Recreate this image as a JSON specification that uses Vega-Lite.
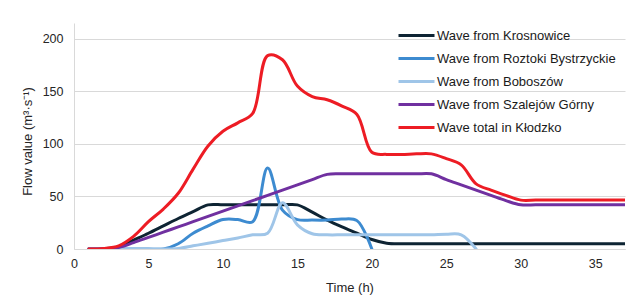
{
  "$schema": "https://vega.github.io/schema/vega-lite/v6.json",
  "width": 551,
  "height": 226,
  "autosize": {"type": "none"},
  "padding": {"left": 74, "top": 23, "right": 12, "bottom": 49},
  "background": "white",
  "config": {
    "font": "Liberation Sans",
    "view": {"stroke": null},
    "axis": {"labelFont": "Liberation Sans", "titleFont": "Liberation Sans", "labelColor": "#262626", "titleColor": "#262626", "titleFontWeight": "normal", "gridColor": "#d9d9d9", "domainColor": "#d9d9d9", "ticks": false}
  },
  "data": {"values": [
    {"s":"Wave from Krosnowice","t":1,"v":0},{"s":"Wave from Krosnowice","t":2,"v":0.3},{"s":"Wave from Krosnowice","t":3,"v":2},{"s":"Wave from Krosnowice","t":4,"v":8.5},{"s":"Wave from Krosnowice","t":5,"v":15},{"s":"Wave from Krosnowice","t":6,"v":22},{"s":"Wave from Krosnowice","t":7,"v":29},{"s":"Wave from Krosnowice","t":8,"v":35.5},{"s":"Wave from Krosnowice","t":9,"v":42},{"s":"Wave from Krosnowice","t":10,"v":42},{"s":"Wave from Krosnowice","t":11,"v":42},{"s":"Wave from Krosnowice","t":12,"v":42},{"s":"Wave from Krosnowice","t":13,"v":42},{"s":"Wave from Krosnowice","t":14,"v":42},{"s":"Wave from Krosnowice","t":15,"v":42},{"s":"Wave from Krosnowice","t":16,"v":35},{"s":"Wave from Krosnowice","t":17,"v":27.5},{"s":"Wave from Krosnowice","t":18,"v":21},{"s":"Wave from Krosnowice","t":19,"v":15},{"s":"Wave from Krosnowice","t":20,"v":9},{"s":"Wave from Krosnowice","t":21,"v":5.5},{"s":"Wave from Krosnowice","t":22,"v":5},{"s":"Wave from Krosnowice","t":23,"v":5},{"s":"Wave from Krosnowice","t":24,"v":5},{"s":"Wave from Krosnowice","t":25,"v":5},{"s":"Wave from Krosnowice","t":26,"v":5},{"s":"Wave from Krosnowice","t":27,"v":5},{"s":"Wave from Krosnowice","t":28,"v":5},{"s":"Wave from Krosnowice","t":29,"v":5},{"s":"Wave from Krosnowice","t":30,"v":5},{"s":"Wave from Krosnowice","t":31,"v":5},{"s":"Wave from Krosnowice","t":32,"v":5},{"s":"Wave from Krosnowice","t":33,"v":5},{"s":"Wave from Krosnowice","t":34,"v":5},{"s":"Wave from Krosnowice","t":35,"v":5},{"s":"Wave from Krosnowice","t":36,"v":5},{"s":"Wave from Krosnowice","t":37,"v":5},
    {"s":"Wave from Roztoki Bystrzyckie","t":1,"v":0},{"s":"Wave from Roztoki Bystrzyckie","t":2,"v":0},{"s":"Wave from Roztoki Bystrzyckie","t":3,"v":0},{"s":"Wave from Roztoki Bystrzyckie","t":4,"v":0},{"s":"Wave from Roztoki Bystrzyckie","t":5,"v":0},{"s":"Wave from Roztoki Bystrzyckie","t":6,"v":0},{"s":"Wave from Roztoki Bystrzyckie","t":7,"v":5},{"s":"Wave from Roztoki Bystrzyckie","t":8,"v":15},{"s":"Wave from Roztoki Bystrzyckie","t":9,"v":22},{"s":"Wave from Roztoki Bystrzyckie","t":10,"v":28},{"s":"Wave from Roztoki Bystrzyckie","t":11,"v":28},{"s":"Wave from Roztoki Bystrzyckie","t":12,"v":26},{"s":"Wave from Roztoki Bystrzyckie","t":13,"v":77},{"s":"Wave from Roztoki Bystrzyckie","t":14,"v":37},{"s":"Wave from Roztoki Bystrzyckie","t":15,"v":28},{"s":"Wave from Roztoki Bystrzyckie","t":16,"v":27.5},{"s":"Wave from Roztoki Bystrzyckie","t":17,"v":27.5},{"s":"Wave from Roztoki Bystrzyckie","t":18,"v":28.5},{"s":"Wave from Roztoki Bystrzyckie","t":19,"v":27},{"s":"Wave from Roztoki Bystrzyckie","t":20,"v":0},
    {"s":"Wave from Boboszów","t":1,"v":0},{"s":"Wave from Boboszów","t":2,"v":0},{"s":"Wave from Boboszów","t":3,"v":0},{"s":"Wave from Boboszów","t":4,"v":0},{"s":"Wave from Boboszów","t":5,"v":0},{"s":"Wave from Boboszów","t":6,"v":0},{"s":"Wave from Boboszów","t":7,"v":0.5},{"s":"Wave from Boboszów","t":8,"v":3},{"s":"Wave from Boboszów","t":9,"v":5.5},{"s":"Wave from Boboszów","t":10,"v":8},{"s":"Wave from Boboszów","t":11,"v":10.5},{"s":"Wave from Boboszów","t":12,"v":13.5},{"s":"Wave from Boboszów","t":13,"v":15},{"s":"Wave from Boboszów","t":14,"v":44},{"s":"Wave from Boboszów","t":15,"v":23},{"s":"Wave from Boboszów","t":16,"v":14.5},{"s":"Wave from Boboszów","t":17,"v":13.5},{"s":"Wave from Boboszów","t":18,"v":13.5},{"s":"Wave from Boboszów","t":19,"v":13.5},{"s":"Wave from Boboszów","t":20,"v":13.5},{"s":"Wave from Boboszów","t":21,"v":13.5},{"s":"Wave from Boboszów","t":22,"v":13.5},{"s":"Wave from Boboszów","t":23,"v":13.5},{"s":"Wave from Boboszów","t":24,"v":13.5},{"s":"Wave from Boboszów","t":25,"v":14},{"s":"Wave from Boboszów","t":26,"v":13.5},{"s":"Wave from Boboszów","t":27,"v":0},
    {"s":"Wave from Szalejów Górny","t":1,"v":0},{"s":"Wave from Szalejów Górny","t":2,"v":0.2},{"s":"Wave from Szalejów Górny","t":3,"v":1.5},{"s":"Wave from Szalejów Górny","t":4,"v":6},{"s":"Wave from Szalejów Górny","t":5,"v":11},{"s":"Wave from Szalejów Górny","t":6,"v":16},{"s":"Wave from Szalejów Górny","t":7,"v":21},{"s":"Wave from Szalejów Górny","t":8,"v":26},{"s":"Wave from Szalejów Górny","t":9,"v":31},{"s":"Wave from Szalejów Górny","t":10,"v":36},{"s":"Wave from Szalejów Górny","t":11,"v":41},{"s":"Wave from Szalejów Górny","t":12,"v":46},{"s":"Wave from Szalejów Górny","t":13,"v":51},{"s":"Wave from Szalejów Górny","t":14,"v":56},{"s":"Wave from Szalejów Górny","t":15,"v":61},{"s":"Wave from Szalejów Górny","t":16,"v":66},{"s":"Wave from Szalejów Górny","t":17,"v":71},{"s":"Wave from Szalejów Górny","t":18,"v":71.5},{"s":"Wave from Szalejów Górny","t":19,"v":71.5},{"s":"Wave from Szalejów Górny","t":20,"v":71.5},{"s":"Wave from Szalejów Górny","t":21,"v":71.5},{"s":"Wave from Szalejów Górny","t":22,"v":71.5},{"s":"Wave from Szalejów Górny","t":23,"v":71.5},{"s":"Wave from Szalejów Górny","t":24,"v":71.5},{"s":"Wave from Szalejów Górny","t":25,"v":66},{"s":"Wave from Szalejów Górny","t":26,"v":61},{"s":"Wave from Szalejów Górny","t":27,"v":56},{"s":"Wave from Szalejów Górny","t":28,"v":51},{"s":"Wave from Szalejów Górny","t":29,"v":46},{"s":"Wave from Szalejów Górny","t":30,"v":42},{"s":"Wave from Szalejów Górny","t":31,"v":42},{"s":"Wave from Szalejów Górny","t":32,"v":42},{"s":"Wave from Szalejów Górny","t":33,"v":42},{"s":"Wave from Szalejów Górny","t":34,"v":42},{"s":"Wave from Szalejów Górny","t":35,"v":42},{"s":"Wave from Szalejów Górny","t":36,"v":42},{"s":"Wave from Szalejów Górny","t":37,"v":42},
    {"s":"Wave total in Kłodzko","t":1,"v":0},{"s":"Wave total in Kłodzko","t":2,"v":0.5},{"s":"Wave total in Kłodzko","t":3,"v":3},{"s":"Wave total in Kłodzko","t":4,"v":12},{"s":"Wave total in Kłodzko","t":5,"v":26},{"s":"Wave total in Kłodzko","t":6,"v":38},{"s":"Wave total in Kłodzko","t":7,"v":53},{"s":"Wave total in Kłodzko","t":8,"v":76},{"s":"Wave total in Kłodzko","t":9,"v":98},{"s":"Wave total in Kłodzko","t":10,"v":112},{"s":"Wave total in Kłodzko","t":11,"v":120},{"s":"Wave total in Kłodzko","t":12,"v":129},{"s":"Wave total in Kłodzko","t":13,"v":184},{"s":"Wave total in Kłodzko","t":14,"v":180},{"s":"Wave total in Kłodzko","t":15,"v":155},{"s":"Wave total in Kłodzko","t":16,"v":145},{"s":"Wave total in Kłodzko","t":17,"v":142},{"s":"Wave total in Kłodzko","t":18,"v":136},{"s":"Wave total in Kłodzko","t":19,"v":128},{"s":"Wave total in Kłodzko","t":20,"v":92},{"s":"Wave total in Kłodzko","t":21,"v":90},{"s":"Wave total in Kłodzko","t":22,"v":90},{"s":"Wave total in Kłodzko","t":23,"v":90.5},{"s":"Wave total in Kłodzko","t":24,"v":90.5},{"s":"Wave total in Kłodzko","t":25,"v":86},{"s":"Wave total in Kłodzko","t":26,"v":80},{"s":"Wave total in Kłodzko","t":27,"v":62},{"s":"Wave total in Kłodzko","t":28,"v":56},{"s":"Wave total in Kłodzko","t":29,"v":51},{"s":"Wave total in Kłodzko","t":30,"v":46.5},{"s":"Wave total in Kłodzko","t":31,"v":46.5},{"s":"Wave total in Kłodzko","t":32,"v":46.5},{"s":"Wave total in Kłodzko","t":33,"v":46.5},{"s":"Wave total in Kłodzko","t":34,"v":46.5},{"s":"Wave total in Kłodzko","t":35,"v":46.5},{"s":"Wave total in Kłodzko","t":36,"v":46.5},{"s":"Wave total in Kłodzko","t":37,"v":46.5}
  ]},
  "mark": {"type": "line", "interpolate": "catmull-rom", "strokeWidth": 3, "strokeCap": "round", "strokeJoin": "round", "clip": true},
  "encoding": {
    "x": {"field": "t", "type": "quantitative", "title": "Time (h)",
      "scale": {"domain": [0, 37], "nice": false, "zero": false},
      "axis": {"values": [0, 5, 10, 15, 20, 25, 30, 35], "grid": false, "labelFontSize": 12.5, "labelPadding": 8, "labelFlush": false, "titleFontSize": 13, "titleY": 38, "titleBaseline": "middle"}},
    "y": {"field": "v", "type": "quantitative", "title": "Flow value (m³·s⁻¹)",
      "scale": {"domain": [0, 215], "nice": false},
      "axis": {"values": [0, 50, 100, 150, 200], "grid": true, "labelFontSize": 12.5, "labelPadding": 11, "titleFontSize": 13, "titleX": -47, "titleY": 118, "titleAlign": "center", "titleBaseline": "middle", "titleAngle": -90}},
    "color": {"field": "s", "type": "nominal", "title": null,
      "scale": {"domain": ["Wave from Krosnowice", "Wave from Roztoki Bystrzyckie", "Wave from Boboszów", "Wave from Szalejów Górny", "Wave total in Kłodzko"],
        "range": ["#0e2433", "#3d8bd0", "#9fc5e8", "#7030a0", "#ed1c24"]},
      "legend": {"orient": "none", "legendX": 335, "legendY": 5, "padding": 0, "symbolType": "M-3,0H3", "symbolSize": 144, "symbolStrokeWidth": 3, "symbolFillColor": "transparent", "labelFontSize": 13, "labelColor": "#1a1a1a", "labelFont": "Liberation Sans", "labelOffset": 13, "rowPadding": 8, "labelLimit": 300}}
  }
}
